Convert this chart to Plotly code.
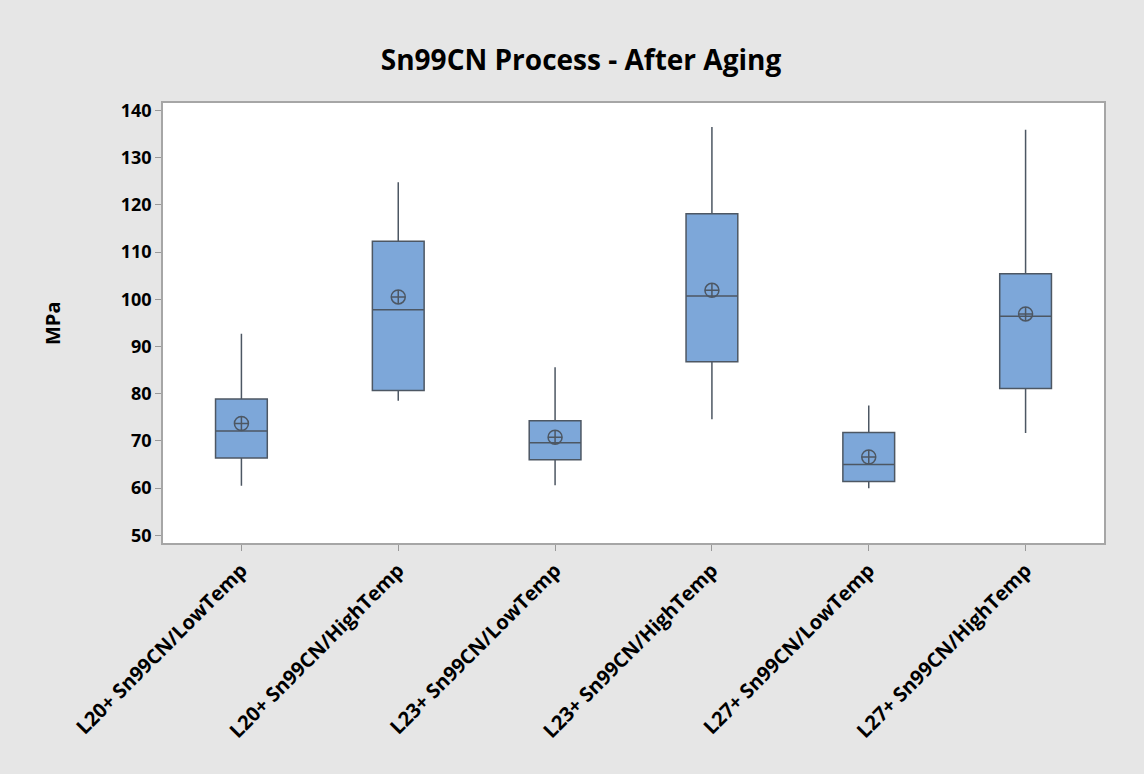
import plotly.graph_objects as go

categories = ["L20+ Sn99CN/LowTemp", "L20+ Sn99CN/HighTemp", "L23+ Sn99CN/LowTemp",
              "L23+ Sn99CN/HighTemp", "L27+ Sn99CN/LowTemp", "L27+ Sn99CN/HighTemp"]
lower_whisker = [60.5, 78.5, 60.6, 74.6, 60.0, 71.7]
q1 = [66.4, 80.7, 66.0, 86.8, 61.4, 81.1]
median = [72.1, 97.8, 69.6, 100.7, 65.0, 96.4]
q3 = [78.9, 112.3, 74.3, 118.1, 71.8, 105.4]
upper_whisker = [92.7, 124.8, 85.6, 136.5, 77.5, 135.9]
mean = [73.7, 100.5, 70.8, 101.9, 66.6, 96.9]
y_ticks = [50, 60, 70, 80, 90, 100, 110, 120, 130, 140]

FONT = "Open Sans"
LINE = "#4d5763"

fig = go.Figure()
fig.add_trace(go.Box(
    x=categories, q1=q1, median=median, q3=q3,
    lowerfence=lower_whisker, upperfence=upper_whisker,
    width=0.33, whiskerwidth=0,
    fillcolor="#7da7d9", line=dict(color=LINE, width=1.5),
    boxpoints=False, showlegend=False, hoverinfo="y",
))
fig.add_trace(go.Scatter(
    x=categories, y=mean, mode="markers",
    marker=dict(symbol="circle-cross-open", size=14, color=LINE, line=dict(width=1.5, color=LINE)),
    showlegend=False,
))

fig.update_layout(
    width=1144, height=774,
    margin=dict(l=163, r=40, t=103, b=231),
    paper_bgcolor="#e6e6e6", plot_bgcolor="white",
    font=dict(family=FONT, color="black"),
    title=dict(text="<b>Sn99CN Process - After Aging</b>", x=581/1144, xanchor="center",
               y=0.922, yanchor="middle", yref="container",
               font=dict(size=28, family=FONT, color="black")),
    xaxis=dict(type="category", range=[-0.5, 5.5], tickangle=-45,
               tickfont=dict(size=20, family=FONT, color="black", weight="bold"),
               ticks="outside", ticklen=6, tickcolor="#999999",
               showline=True, linecolor="#a6a6a6", linewidth=1.5, mirror=True,
               showgrid=False, zeroline=False),
    yaxis=dict(range=[48.39, 141.57], tickvals=y_ticks,
               tickfont=dict(size=18, family=FONT, color="black", weight="bold"),
               ticks="outside", ticklen=6, tickcolor="#999999",
               showline=True, linecolor="#a6a6a6", linewidth=1.5, mirror=True,
               showgrid=False, zeroline=False),
    annotations=[dict(text="<b>MPa</b>", x=(52 - 163) / 941, y=0.5, xref="paper", yref="paper",
                      xanchor="center", yanchor="middle",
                      textangle=-90, showarrow=False,
                      font=dict(size=20, family=FONT, color="black"))],
)

fig.write_html("out.html")
